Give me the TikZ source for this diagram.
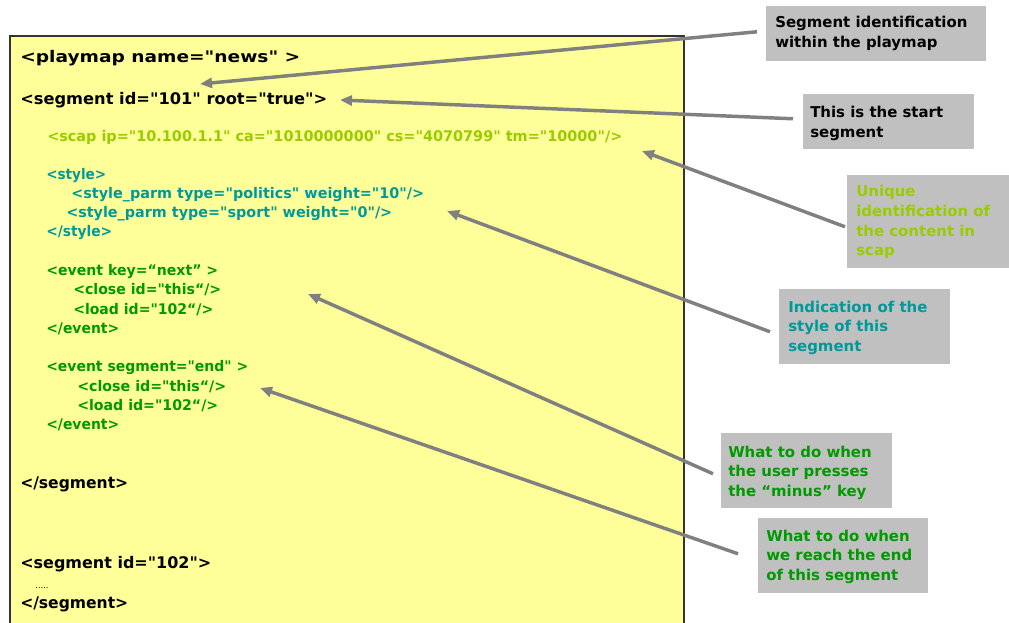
\documentclass[tikz,border=0pt]{standalone}
\usepackage{fontspec}
\setmainfont{DejaVu Sans}[Ligatures=TeXOff]
\usetikzlibrary{arrows.meta,calc}

% one screen pixel
\newdimen\pxu \pxu=0.75pt

% set a line of code and stretch it to a given width (in pixels)
\newsavebox\fitbox
\newcommand\fitw[2]{%
  \sbox\fitbox{#2}%
  \pgfmathsetmacro\fitratio{#1*0.75/\the\wd\fitbox}%
  \scalebox{\fitratio}[1]{\usebox\fitbox}}

\definecolor{panelfill}{HTML}{FFFF99}
\definecolor{panelline}{HTML}{333333}
\definecolor{scapcol}{HTML}{99CC00}
\definecolor{stylecol}{HTML}{009999}
\definecolor{eventcol}{HTML}{009900}
\definecolor{notefill}{HTML}{C0C0C0}
\definecolor{ptrgray}{HTML}{808080}

\tikzset{
  codepanel/.style={anchor=north west, fill=panelfill, draw=panelline,
    line width=1.5pt, inner sep=0pt},
  codetag/.style={anchor=base west, inner sep=0pt, text=black,
    font=\bfseries\fontsize{12}{14}\selectfont},
  codeattr/.style={anchor=base west, inner sep=0pt,
    font=\bfseries\fontsize{11}{13}\selectfont},
  notebox/.style={anchor=north west, fill=notefill, inner sep=0pt},
  notetext/.style={anchor=base west, inner sep=0pt,
    font=\bfseries\fontsize{11.2}{14.7}\selectfont},
  ptr/.style={draw=ptrgray, line width=2.6pt,
    -{Triangle[length=9pt,width=7.5pt]}},
}

\begin{document}
\begin{tikzpicture}[x=0.75pt, y=-0.75pt]
\useasboundingbox (0,0) rectangle (1009,623);

% the playmap listing
\node[codepanel, minimum width=674\pxu, minimum height=620\pxu] (panel) at (9,35) {};

\node[codetag] (playmap) at (20,63) {\fitw{280}{<playmap name="news" >}};
\node[codetag] (seg1) at (20,105) {\fitw{307}{<segment id="101" root="true">}};

\node[codeattr, text=scapcol] (scap) at (47,142)
  {\fitw{575}{<scap ip="10.100.1.1" ca="1010000000" cs="4070799" tm="10000"/>}};

\node[codeattr, text=stylecol] (style) at (46,180) {\fitw{60}{<style>}};
\node[codeattr, text=stylecol] (parm1) at (71,199)
  {\fitw{353}{<style\_parm type="politics" weight="10"/>}};
\node[codeattr, text=stylecol] (parm2) at (66,218)
  {\fitw{326}{<style\_parm type="sport" weight="0"/>}};
\node[codeattr, text=stylecol] (styleend) at (46,237) {\fitw{66}{</style>}};

\node[codeattr, text=eventcol] (ev1) at (46,276) {\fitw{172}{<event key=“next” >}};
\node[codeattr, text=eventcol] (close1) at (73,295) {\fitw{148}{<close id="this“/>}};
\node[codeattr, text=eventcol] (load1) at (73,315) {\fitw{140}{<load id="102“/>}};
\node[codeattr, text=eventcol] (ev1end) at (46,334) {\fitw{73}{</event>}};

\node[codeattr, text=eventcol] (ev2) at (46,371) {\fitw{202}{<event segment="end" >}};
\node[codeattr, text=eventcol] (close2) at (77,391) {\fitw{149}{<close id="this“/>}};
\node[codeattr, text=eventcol] (load2) at (77,410) {\fitw{141}{<load id="102“/>}};
\node[codeattr, text=eventcol] (ev2end) at (46,429) {\fitw{73}{</event>}};

\node[codetag] (seg1end) at (20,488) {\fitw{108}{</segment>}};
\node[codetag] (seg2) at (20,568) {\fitw{191}{<segment id="102">}};
\node[anchor=base west, inner sep=0pt, font=\fontsize{6}{7}\selectfont] (dots) at (35,588) {…..};
\node[codetag] (seg2end) at (20,608) {\fitw{108}{</segment>}};

% explanatory notes
\node[notebox, minimum width=220\pxu, minimum height=55\pxu] (n1) at (766,6) {};
\node[notetext] (n1t) at ($(n1.north west)+(9,22)$)
  {\vtop{\hbox{Segment identification}\hbox{within the playmap}}};

\node[notebox, minimum width=171\pxu, minimum height=55\pxu] (n2) at (803,94) {};
\node[notetext] (n2t) at ($(n2.north west)+(7,24)$)
  {\vtop{\hbox{This is the start}\hbox{segment}}};

\node[notebox, minimum width=162\pxu, minimum height=93\pxu] (n3) at (847,175) {};
\node[notetext, text=scapcol] (n3t) at ($(n3.north west)+(9,22)$)
  {\vtop{\hbox{Unique}\hbox{identification of}\hbox{the content in}\hbox{scap}}};

\node[notebox, minimum width=171\pxu, minimum height=75\pxu] (n4) at (779,289) {};
\node[notetext, text=stylecol] (n4t) at ($(n4.north west)+(9,23)$)
  {\vtop{\hbox{Indication of the}\hbox{style of this}\hbox{segment}}};

\node[notebox, minimum width=171\pxu, minimum height=75\pxu] (n5) at (721,433) {};
\node[notetext, text=eventcol] (n5t) at ($(n5.north west)+(7,24)$)
  {\vtop{\hbox{What to do when}\hbox{the user presses}\hbox{the “minus” key}}};

\node[notebox, minimum width=170\pxu, minimum height=75\pxu] (n6) at (758,518) {};
\node[notetext, text=eventcol] (n6t) at ($(n6.north west)+(8,23)$)
  {\vtop{\hbox{What to do when}\hbox{we reach the end}\hbox{of this segment}}};

% pointers from the notes into the listing
\coordinate (tip1) at (200,84);
\coordinate (tip2) at (340,100);
\coordinate (tip3) at (642,151);
\coordinate (tip4) at (447,211);
\coordinate (tip5) at (308,294);
\coordinate (tip6) at (260,388);

\draw[ptr] ($(n1.west)+(-9,-2)$) -- (tip1);
\draw[ptr] ($(n2.west)+(-10,-3)$) -- (tip2);
\draw[ptr] ($(n3.west)+(-2,5)$) -- (tip3);
\draw[ptr] ($(n4.west)+(-9,5)$) -- (tip4);
\draw[ptr] ($(n5.west)+(-8,3)$) -- (tip5);
\draw[ptr] ($(n6.west)+(-20,-2)$) -- (tip6);
\end{tikzpicture}
\end{document}
